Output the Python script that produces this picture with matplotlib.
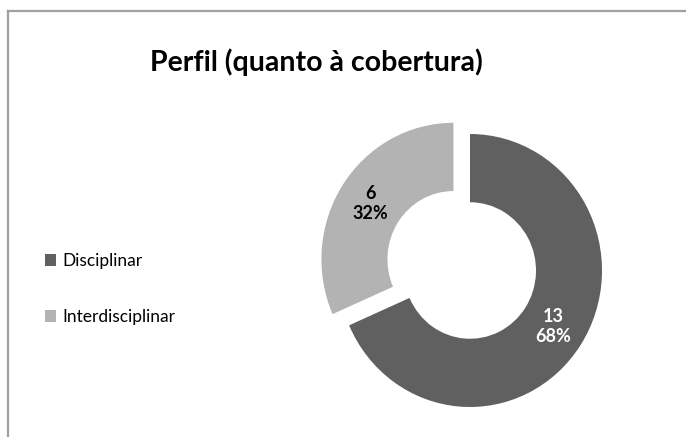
import matplotlib.pyplot as plt
from matplotlib.lines import Line2D

# data
labels = ["Disciplinar", "Interdisciplinar"]
counts = [13, 6]
colors = ["#606060", "#b3b3b3"]
text_colors = ["white", "black"]

W, H, DPI = 686, 437, 100
plt.rcParams["font.family"] = ["Lato", "DejaVu Sans"]

fig = plt.figure(figsize=(W / DPI, H / DPI), dpi=DPI)

# pie axes: centre ~ (470, 270) px, the source image is slightly squeezed sideways
cx, cy = 470, 270.5
rx, ry = 132, 136.5
half = 160
ax = fig.add_axes([(cx - half) / W, (H - cy - half) / H, 2 * half / W, 2 * half / H])

total = sum(counts)


def fmt(pct):
    n = int(round(pct * total / 100.0))
    return f"{n}\n{pct:.0f}%"


wedges, _, autotexts = ax.pie(
    counts,
    colors=colors,
    startangle=90,
    counterclock=False,
    explode=[0.0, 0.15],
    radius=1.0,
    wedgeprops=dict(width=0.5, linewidth=0),
    autopct=fmt,
    pctdistance=0.75,
)
for t, c in zip(autotexts, text_colors):
    t.set_color(c)
    t.set_fontsize(13)
    t.set_fontweight("bold")
    t.set_linespacing(1.25)

ax.set_aspect("auto")
ax.set_xlim(-half / rx, half / rx)
ax.set_ylim(-half / ry, half / ry)
ax.axis("off")

fig.text(316 / W, 1 - 62 / H, "Perfil (quanto à cobertura)",
         ha="center", va="center", fontsize=20.5, fontweight="bold")

fig.legend(
    wedges, labels,
    loc="center left",
    bbox_to_anchor=(45 / W, 1 - 289 / H),
    frameon=False,
    fontsize=12.5,
    handlelength=0.65,
    handleheight=0.65,
    handletextpad=0.35,
    labelspacing=2.3,
    borderaxespad=0,
    borderpad=0,
)

# chart border (only top and left visible in the crop)
fig.add_artist(Line2D([8 / W, 1], [1 - 11 / H, 1 - 11 / H], color="#a0a0a0", lw=1.6))
fig.add_artist(Line2D([8 / W, 8 / W], [0, 1 - 11 / H], color="#a0a0a0", lw=1.6))

fig.savefig("out.png", dpi=DPI)
